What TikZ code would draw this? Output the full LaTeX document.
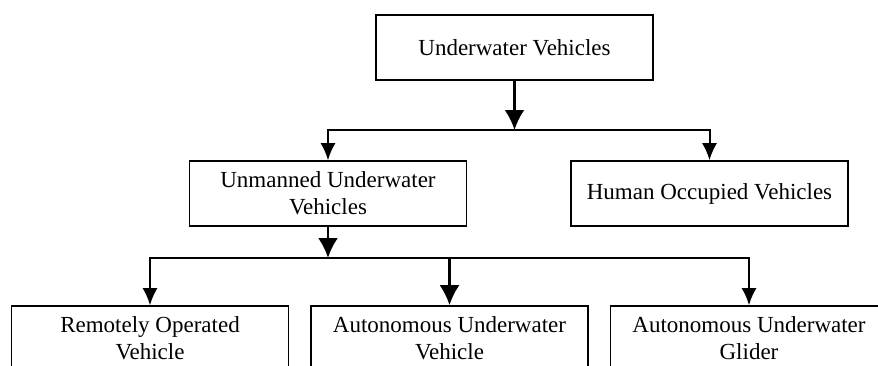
\documentclass[tikz,border=0pt]{standalone}
\usepackage{fontspec}
\setmainfont{Liberation Serif}
\usetikzlibrary{arrows.meta}

\tikzset{
	box/.style={draw, line width=1.6pt, minimum width=277pt, minimum height=65pt,
		inner sep=0pt, align=center, font=\fontsize{23}{27}\selectfont},
	link/.style={line width=2pt, -{Latex[length=17pt, width=15pt]}},
	mainlink/.style={line width=2.6pt, -{Latex[length=20pt, width=20pt]}}
}

\begin{document}
\begin{tikzpicture} [x=1pt, y=-1pt]
	%%%	Frame
	\useasboundingbox (0,0) rectangle (878,365);
	\clip (0,0) rectangle (878,365);
	%%%	Boxes
	\node[box] (uv)  at (514.5,47.5)  {Underwater Vehicles};
	\node[box] (uuv) at (328,193.5)   {Unmanned Underwater\\Vehicles};
	\node[box] (hov) at (709.5,193.5) {Human Occupied Vehicles};
	\node[box] (rov) at (150,338.5)   {Remotely Operated\\Vehicle};
	\node[box] (auv) at (449.5,338.5) {Autonomous Underwater\\Vehicle};
	\node[box] (aug) at (749,338.5)   {Autonomous Underwater\\Glider};
	%%%	Junctions
	\coordinate (j1) at (514.5,130);
	\coordinate (j2) at (328,258);
	%%%	Arrows
	\draw[mainlink] (uv) -- (j1);
	\draw[link] (j1) -| (uuv);
	\draw[link] (j1) -| (hov);
	\draw[mainlink] (uuv) -- (j2);
	\draw[link] (j2) -| (rov);
	\draw[link] (j2) -| (aug);
	\draw[mainlink] (auv |- j2) -- (auv);
\end{tikzpicture}
\end{document}
